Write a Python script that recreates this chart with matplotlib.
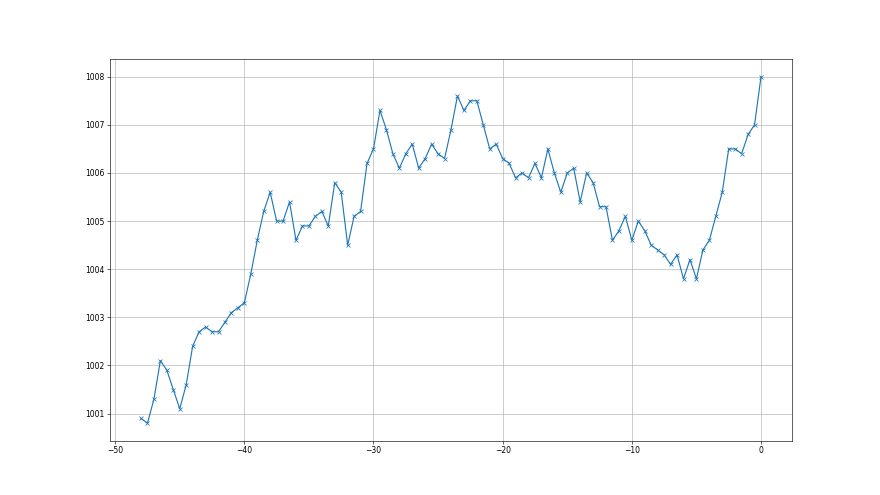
import numpy as np
import matplotlib
matplotlib.use("Agg")
import matplotlib.pyplot as plt

# hours relative to now, half-hour steps
hours = np.arange(-48, 0.5, 0.5)

pressure = [
    1000.9, 1000.8, 1001.3, 1002.1, 1001.9, 1001.5, 1001.1, 1001.6, 1002.4, 1002.7,
    1002.8, 1002.7, 1002.7, 1002.9, 1003.1, 1003.2, 1003.3, 1003.9, 1004.6, 1005.2,
    1005.6, 1005.0, 1005.0, 1005.4, 1004.6, 1004.9, 1004.9, 1005.1, 1005.2, 1004.9,
    1005.8, 1005.6, 1004.5, 1005.1, 1005.2, 1006.2, 1006.5, 1007.3, 1006.9, 1006.4,
    1006.1, 1006.4, 1006.6, 1006.1, 1006.3, 1006.6, 1006.4, 1006.3, 1006.9, 1007.6,
    1007.3, 1007.5, 1007.5, 1007.0, 1006.5, 1006.6, 1006.3, 1006.2, 1005.9, 1006.0,
    1005.9, 1006.2, 1005.9, 1006.5, 1006.0, 1005.6, 1006.0, 1006.1, 1005.4, 1006.0,
    1005.8, 1005.3, 1005.3, 1004.6, 1004.8, 1005.1, 1004.6, 1005.0, 1004.8, 1004.5,
    1004.4, 1004.3, 1004.1, 1004.3, 1003.8, 1004.2, 1003.8, 1004.4, 1004.6, 1005.1,
    1005.6, 1006.5, 1006.5, 1006.4, 1006.8, 1007.0, 1008.0,
]

fig = plt.figure(figsize=(16, 9), dpi=55)
ax = fig.add_subplot(111)
ax.plot(hours, pressure, marker="x")
ax.grid(True)

fig.savefig("out.png", dpi=55)
